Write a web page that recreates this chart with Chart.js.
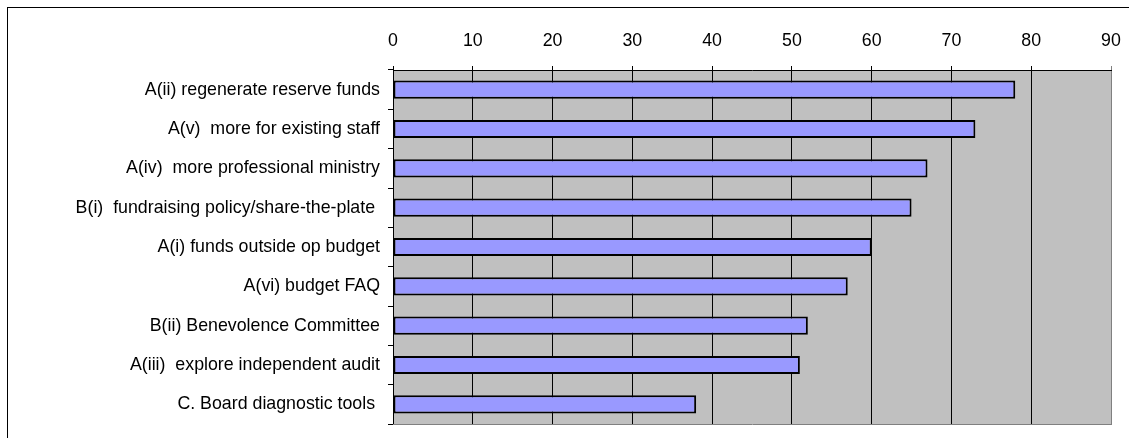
<!DOCTYPE html>
<html>
<head>
<meta charset="utf-8">
<script src="https://cdn.jsdelivr.net/npm/chart.js@4/dist/chart.umd.min.js"></script>
<style>
  html, body { margin: 0; padding: 0; background: #fff; }
  #wrap { width: 1129px; height: 438px; position: relative; }
</style>
</head>
<body>
<div id="wrap"><canvas id="barChart"></canvas></div>
<script>
// data
var categories = [
  "A(ii) regenerate reserve funds",
  "A(v)  more for existing staff",
  "A(iv)  more professional ministry",
  "B(i)  fundraising policy/share-the-plate ",
  "A(i) funds outside op budget",
  "A(vi) budget FAQ",
  "B(ii) Benevolence Committee",
  "A(iii)  explore independent audit",
  "C. Board diagnostic tools "
];
var responses = [78, 73, 67, 65, 60, 57, 52, 51, 38];
var xMin = 0;
var xMax = 90;
var xStep = 10;

var labelFont = { family: "'Liberation Sans', Arial, sans-serif", size: 17.8 };

// grey plot area + outer frame
var frame = {
  id: "frame",
  beforeDraw: function (chart) {
    var c = chart.ctx, a = chart.chartArea;
    c.save();
    c.fillStyle = "#fff";
    c.fillRect(0, 0, chart.width, chart.height);
    c.strokeStyle = "#000";
    c.lineWidth = 1;
    c.strokeRect(7.5, 7.5, chart.width + 20, chart.height + 20);
    c.fillStyle = "#c0c0c0";
    c.fillRect(a.left, a.top, a.right - a.left, a.bottom - a.top);
    c.restore();
  },
  afterDatasetsDraw: function (chart) {
    var c = chart.ctx, a = chart.chartArea;
    c.save();
    c.strokeStyle = "#808080";
    c.lineWidth = 1;
    c.beginPath();
    c.moveTo(a.left, a.bottom + 0.5);
    c.lineTo(a.right + 1, a.bottom + 0.5);
    c.stroke();
    c.restore();
  }
};

var ctx = document.getElementById("barChart").getContext("2d");
var myBarChart = new Chart(ctx, {
  type: "bar",
  data: {
    labels: categories,
    datasets: [
      {
        data: responses,
        backgroundColor: "#9999ff",
        borderColor: "#000",
        borderWidth: 2,
        borderSkipped: false,
        barPercentage: 0.46,
        categoryPercentage: 1
      }
    ]
  },
  options: {
    indexAxis: "y",
    responsive: true,
    maintainAspectRatio: false,
    animation: false,
    layout: { padding: { left: 0, right: 18, top: 0, bottom: 14 } },
    plugins: {
      legend: { display: false },
      tooltip: { enabled: false }
    },
    scales: {
      x: {
        position: "top",
        min: xMin,
        max: xMax,
        afterFit: function (scale) {
          scale.height = 70;
          scale.paddingLeft = 0;
          scale.paddingRight = 0;
        },
        ticks: { stepSize: xStep, color: "#000", font: labelFont, padding: 14 },
        grid: {
          color: function (c) { return c.tick && c.tick.value === xMax ? "#808080" : "#000"; },
          lineWidth: 1,
          tickLength: 4
        },
        border: { color: "#000", width: 1 }
      },
      y: {
        afterFit: function (scale) {
          scale.width = 393;
          scale.paddingTop = 0;
          scale.paddingBottom = 0;
        },
        ticks: { color: "#000", font: labelFont, padding: 8 },
        grid: {
          drawOnChartArea: false,
          color: "#000",
          tickLength: 5,
          offset: true
        },
        border: { color: "#000", width: 1 }
      }
    }
  },
  plugins: [frame]
});
</script>
</body>
</html>
